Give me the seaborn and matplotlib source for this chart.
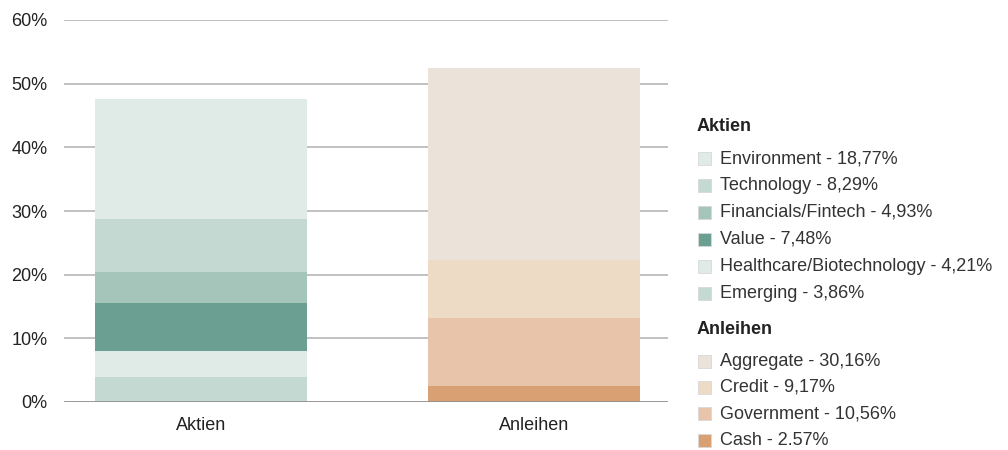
import numpy as np
import pandas as pd
import matplotlib
matplotlib.use("Agg")
import matplotlib.pyplot as plt
import seaborn as sns
from matplotlib.patches import Rectangle

categories = ["Aktien", "Anleihen"]

aktien_names = ["Emerging", "Healthcare/Biotechnology", "Value", "Financials/Fintech", "Technology", "Environment"]
aktien_values = [3.86, 4.21, 7.48, 4.93, 8.29, 18.77]
aktien_colors = ["#c3d9d2", "#e0eae7", "#6b9f91", "#a5c5ba", "#c3d9d2", "#e0eae7"]
aktien_labels = ["3,86%", "4,21%", "7,48%", "4,93%", "8,29%", "18,77%"]

anleihen_names = ["Cash", "Government", "Credit", "Aggregate"]
anleihen_values = [2.57, 10.56, 9.17, 30.16]
anleihen_colors = ["#d8a073", "#e8c5aa", "#eddbc6", "#ebe2d9"]
anleihen_labels = ["2.57%", "10,56%", "9,17%", "30,16%"]

yticks = [0, 10, 20, 30, 40, 50, 60]

sns.set_theme(style="white")
plt.rcParams['font.family'] = ['Liberation Sans', 'DejaVu Sans']

fig = plt.figure(figsize=(10.08, 4.5), dpi=100)
ax = fig.add_axes([64/1008, 1-402/450, (668-64)/1008, (402-20)/450])

def draw_stack(cat, values, colors):
    cum = np.cumsum(values)
    for h, c in zip(cum[::-1], colors[::-1]):
        df = pd.DataFrame({"cat": [cat], "val": [h]})
        sns.barplot(data=df, x="cat", y="val", order=categories, color=c,
                    width=0.637, ax=ax, saturation=1, linewidth=0, zorder=3)

draw_stack("Aktien", aktien_values, aktien_colors)
draw_stack("Anleihen", anleihen_values, anleihen_colors)

ax.set_xlim(-0.411, 1.402)
ax.set_ylim(0, 60)
ax.set_yticks(yticks)
ax.set_yticklabels([f"{t}%" for t in yticks])
ax.set_xlabel("")
ax.set_ylabel("")
for s in ax.spines.values():
    s.set_visible(False)
for t in yticks[1:]:
    ax.axhline(t, color="#b0b0b0", lw=1.1, zorder=1)
ax.axhline(0, color="#8f8f8f", lw=2, zorder=4)
ax.tick_params(axis="y", length=0, pad=12, labelsize=13, labelcolor="#222222")
ax.tick_params(axis="x", length=0, pad=11, labelsize=13, labelcolor="#222222")

# Custom grouped legend
def px(x, y):
    return x/1008, 1-y/450

def legend_group(title, ytitle, names, labels, colors, ystart, step):
    fx, fy = px(697, ytitle)
    fig.text(fx, fy, title, fontsize=13, fontweight="bold", color="#222222", va="center", ha="left")
    for i, (n, l, c) in enumerate(zip(names, labels, colors)):
        y = ystart + i*step
        rx, ry = px(698, y+6.5)
        fig.patches.append(Rectangle((rx, ry), 13/1008, 13/450, transform=fig.transFigure,
                                     facecolor=c, edgecolor="#d8d8d8", lw=0.6))
        tx, ty = px(720, y)
        fig.text(tx, ty, f"{n} - {l}", fontsize=13, color="#333333", va="center", ha="left")

legend_group("Aktien", 127, aktien_names[::-1], aktien_labels[::-1], aktien_colors[::-1], 158.5, 26.9)
legend_group("Anleihen", 330, anleihen_names[::-1], anleihen_labels[::-1], anleihen_colors[::-1], 361, 26.4)

fig.savefig("out.png", dpi=100)
